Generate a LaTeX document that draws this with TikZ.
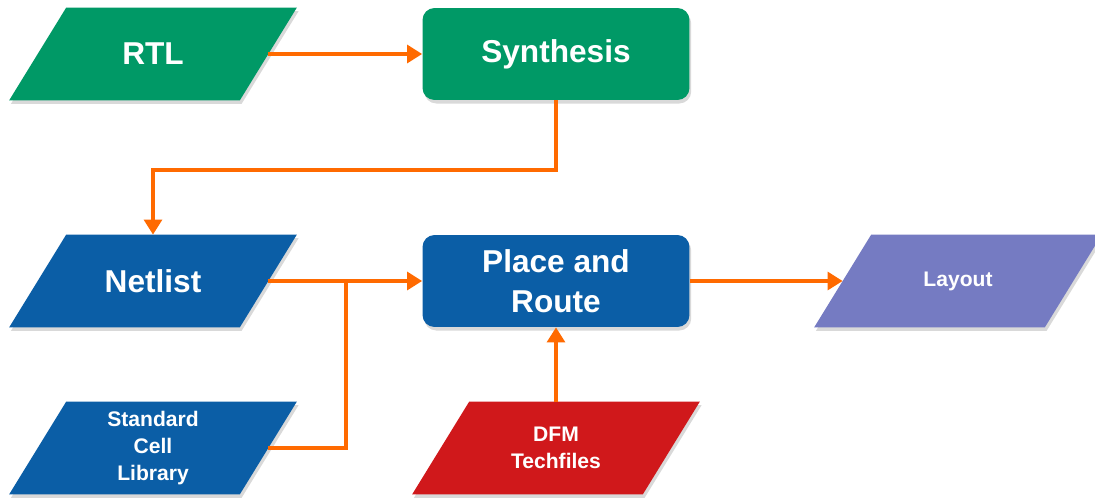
\documentclass[tikz,border=0pt]{standalone}
\usepackage{fontspec}
\setmainfont{Liberation Sans}
\usepackage{tikz}
\usetikzlibrary{shapes.geometric, arrows.meta, positioning, shadows, backgrounds}

\definecolor{flowgreen}{HTML}{009966}
\definecolor{flowblue}{HTML}{0B5EA6}
\definecolor{flowred}{HTML}{D0181B}
\definecolor{flowpurple}{HTML}{757BC2}
\definecolor{floworange}{HTML}{FF6A00}

\begin{document}
\begin{tikzpicture}[
    x=0.02cm, y=-0.02cm,
    datanode/.style = {rectangle, minimum width=4.6cm, minimum height=1.84cm,
        inner sep=0pt, text=white, align=center},
    stepnode/.style = {rectangle, rounded corners=0.24cm, minimum width=5.34cm,
        minimum height=1.84cm, inner sep=0pt, text=white, align=center,
        drop shadow={shadow xshift=1pt, shadow yshift=-2pt, opacity=0.3}},
    slantfill/.style = {drop shadow={shadow xshift=1pt, shadow yshift=-2pt, opacity=0.3}},
    bigtext/.style = {font=\fontsize{18}{22.5}\selectfont\bfseries},
    smalltext/.style = {font=\fontsize{12}{15.3}\selectfont\bfseries},
    flow/.style = {line width=2.3pt, draw=floworange, -{Triangle[length=8.5pt, width=10pt]}},
    wire/.style = {line width=2.3pt, draw=floworange}
]
\useasboundingbox (0,0) rectangle (1095,497);

\node [datanode, bigtext] (rtl) at (153, 54) {RTL};
\node [stepnode, bigtext, fill=flowgreen] (synth) at (556, 54) {Synthesis};

\node [datanode, bigtext] (netlist) at (153, 281) {Netlist};
\node [stepnode, bigtext, fill=flowblue] (pnr) at (556, 281) {Place and\\Route};
\node [datanode, smalltext] (layout) at (958, 281) {Layout};

\node [datanode, smalltext] (stdcell) at (153, 448) {Standard\\Cell\\Library};
\node [datanode, smalltext] (dfm) at (556, 448) {DFM\\Techfiles};

% slanted data boxes behind the text
\begin{scope}[on background layer]
\foreach \n/\c in {rtl/flowgreen, netlist/flowblue, layout/flowpurple,
                   stdcell/flowblue, dfm/flowred}
    \fill[\c, slantfill] ([xshift=0.57cm]\n.north west) -- ([xshift=0.57cm]\n.north east)
        -- ([xshift=-0.57cm]\n.south east) -- ([xshift=-0.57cm]\n.south west) -- cycle;
\end{scope}

\coordinate (turn) at (556, 170);
\coordinate (join) at (346, 281);

\draw[flow] (rtl.east) -- (synth.west);
\draw[flow] (synth.south) -- (turn) -| (netlist.north);
\draw[flow] (netlist.east) -- (pnr.west);
\draw[wire] (stdcell.east) -| (join);
\draw[flow] (dfm.north) -- (pnr.south);
\draw[flow] (pnr.east) -- (layout.west);

\end{tikzpicture}
\end{document}
